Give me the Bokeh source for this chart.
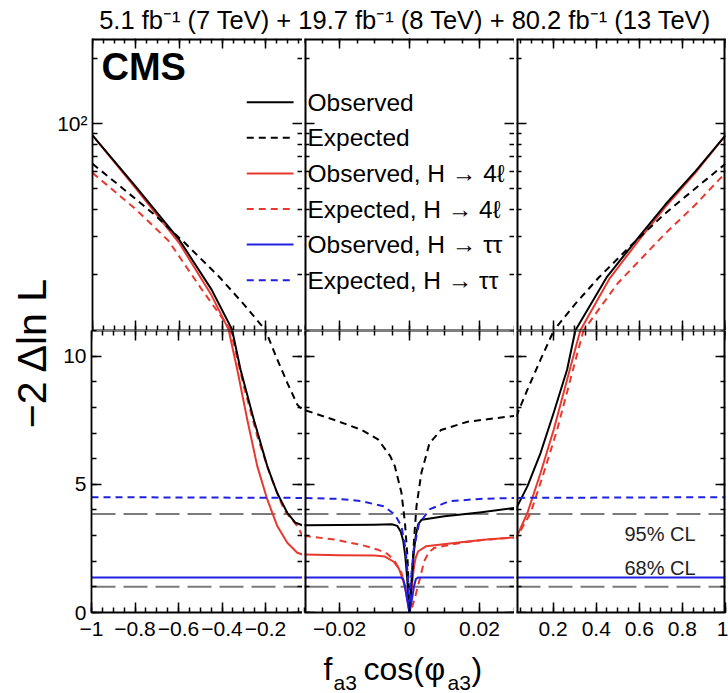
from math import pi
import numpy as np
from bokeh.plotting import figure
from bokeh.models import (Range1d, LinearAxis, LogAxis, FixedTicker, Label, Span,
                          CustomJSTickFormatter)
from bokeh.layouts import row, column
from bokeh.embed import file_html
from bokeh.resources import INLINE

FONT = "Liberation Sans"

# ---------------- data ----------------
# Observed (combination)
obs_x = [-1.0, -0.8, -0.6, -0.45, -0.353, -0.315, -0.254, -0.192, -0.147, -0.1, -0.062, -0.03,
         -0.02, -0.01, -0.005, -0.0035, -0.0025, -0.0018, -0.0012, -0.0007, -0.0003, 0.0,
         0.0003, 0.0007, 0.0012, 0.0018, 0.0025, 0.0035, 0.01, 0.02, 0.03,
         0.081, 0.142, 0.203, 0.265, 0.303, 0.45, 0.6, 0.72, 0.86, 1.0]
obs_y = [88, 51, 29, 17, 11.0, 9.48, 7.53, 5.71, 4.67, 3.89, 3.5, 3.4,
         3.41, 3.42, 3.44, 3.38, 3.15, 2.8, 2.2, 1.4, 0.6, 0.0,
         0.6, 1.4, 2.3, 3.0, 3.45, 3.62, 3.75, 3.9, 4.08,
         4.93, 6.23, 7.8, 9.48, 11.0, 19.5, 30, 42, 60, 88]

# Expected (combination)
exp_x = [-1.0, -0.86, -0.719, -0.566, -0.413, -0.3, -0.2, -0.146, -0.1, -0.054, -0.03,
         -0.0212, -0.0136, -0.009, -0.0055, -0.0042, -0.0023, -0.0013, -0.0006, -0.0001, 0.0,
         0.0002, 0.0006, 0.0013, 0.002, 0.0034, 0.0057, 0.009, 0.0166, 0.03,
         0.081, 0.142, 0.203, 0.3, 0.413, 0.566, 0.719, 0.86, 1.0]
exp_y = [65, 50, 38.2, 27.5, 19.4, 14.5, 11.0, 9.87, 8.96, 8.11, 7.9,
         7.5, 7.12, 6.75, 6.1, 5.71, 4.67, 3.5, 2.2, 0.64, 0.0,
         0.45, 1.17, 2.85, 4.15, 5.45, 6.6, 7.12, 7.44, 7.67,
         8.7, 9.87, 11.0, 14.5, 19.4, 27.5, 38.2, 50, 65]

# Observed, H -> 4l
obs4l_x = [-1.0, -0.8, -0.6, -0.45, -0.369, -0.33, -0.284, -0.238, -0.192, -0.146, -0.1, -0.054, -0.03,
           -0.02, -0.01, -0.007, -0.0045, -0.003, -0.0018, -0.001, -0.0003, 0.0,
           0.0004, 0.0008, 0.0013, 0.0018, 0.0025, 0.0047, 0.0147, 0.022, 0.03,
           0.081, 0.142, 0.203, 0.265, 0.326, 0.46, 0.6, 0.72, 0.86, 1.0]
obs4l_y = [88, 50, 28, 16, 11.0, 9.48, 7.53, 5.71, 4.41, 3.37, 2.72, 2.33, 2.26,
           2.23, 2.22, 2.18, 1.98, 1.7, 1.25, 0.8, 0.3, 0.0,
           0.5, 1.2, 1.8, 2.15, 2.39, 2.58, 2.74, 2.85, 2.93,
           3.89, 5.45, 7.14, 9.09, 11.0, 19, 29, 41, 59, 88]

# Expected, H -> 4l
exp4l_x = [-1.0, -0.8, -0.65, -0.5, -0.36, -0.3, -0.238, -0.177, -0.116, -0.054, -0.03,
           -0.0212, -0.0136, -0.009, -0.0065, -0.0045, -0.0023, -0.0011, -0.0003, 0.0,
           0.0005, 0.0015, 0.0029, 0.0042, 0.0055, 0.0071, 0.0147, 0.0213, 0.03,
           0.096, 0.157, 0.219, 0.28, 0.341, 0.5, 0.72, 0.86, 1.0]
exp4l_y = [59, 40, 28.7, 17.3, 11.0, 8.83, 6.88, 5.32, 4.02, 3.37, 2.99,
           2.84, 2.63, 2.45, 2.3, 2.07, 1.55, 0.9, 0.25, 0.0,
           0.1, 0.55, 1.29, 2.0, 2.35, 2.52, 2.72, 2.84, 2.92,
           3.89, 5.46, 7.14, 9.09, 11.0, 18.2, 30.9, 42, 59]

# Observed, H -> tautau
obstt_x = [-1.0, -0.0025, -0.0018, -0.0013, -0.0008, -0.0003, 0.0,
           0.0003, 0.0008, 0.0013, 0.0018, 0.0025, 1.0]
obstt_y = [1.37, 1.37, 1.3, 1.02, 0.6, 0.2, 0.0,
           0.2, 0.6, 1.02, 1.3, 1.37, 1.37]

# Expected, H -> tautau
exptt_x = [-1.0, -0.03, -0.02, -0.0136, -0.0073, -0.0042, -0.0023, -0.0011, -0.0004, 0.0,
           0.0004, 0.0012, 0.0027, 0.0057, 0.0113, 0.02, 0.03, 1.0]
exptt_y = [4.5, 4.47, 4.43, 4.34, 4.14, 3.82, 3.37, 2.46, 1.29, 0.0,
           1.29, 2.46, 3.45, 4.02, 4.34, 4.43, 4.47, 4.5]

CL_values = [3.84, 1.0]
CL_labels = ["95% CL", "68% CL"]

legend_labels = ["Observed", "Expected", "Observed, H \u2192 4\u2113", "Expected, H \u2192 4\u2113",
                 "Observed, H \u2192 \u03c4\u03c4", "Expected, H \u2192 \u03c4\u03c4"]

x_major_left = [-1.0, -0.8, -0.6, -0.4, -0.2]
x_labels_left = ["\u22121", "\u22120.8", "\u22120.6", "\u22120.4", "\u22120.2"]
x_major_mid = [-0.02, 0.0, 0.02]
x_labels_mid = ["\u22120.02", "0", "0.02"]
x_major_right = [0.2, 0.4, 0.6, 0.8, 1.0]
x_labels_right = ["0.2", "0.4", "0.6", "0.8", "1"]
y_major_bot = [0, 5, 10]
y_labels_bot = ["0", "5", "10"]
y_major_top = [100]
y_labels_top = ["10\u00b2"]

x_minor_left = [round(-1 + 0.05 * i, 3) for i in range(20)]
x_minor_mid = [round(-0.03 + 0.005 * i, 4) for i in range(13)]
x_minor_right = [round(0.05 * i, 3) for i in range(1, 21)]
y_minor_bot = list(range(0, 12))
y_minor_top = [20, 30, 40, 50, 60, 70, 80, 90, 200]

# ---------------- style / layout ----------------
BLACK = "#000000"
RED = "#e8392f"
BLUE = "#2020e0"
GRAY = "#7a7a7a"
DASH = "7 5"
EDGE_W = 4          # frame line drawn at a frame edge (half of it is clipped away)
SPLIT_W = 2         # each half of the horizontal split line

series = [
    (exp4l_x, exp4l_y, RED, DASH),
    (obs4l_x, obs4l_y, RED, "solid"),
    (exp_x, exp_y, BLACK, DASH),
    (obs_x, obs_y, BLACK, "solid"),
    (exptt_x, exptt_y, BLUE, DASH),
    (obstt_x, obstt_y, BLUE, "solid"),
]
legend_style = [(BLACK, "solid"), (BLACK, DASH), (RED, "solid"), (RED, DASH),
                (BLUE, "solid"), (BLUE, DASH)]

X_LEFT = (-1.0, -0.03)
X_MID = (-0.03, 0.03)
X_RIGHT = (0.03, 1.0)
Y_TOP = (11.0, 247.0)
Y_BOT = (0.0, 11.0)

TOTAL_W, TOTAL_H = 728, 693
YLAB_W = 54
LEFT_B = 37
SEP = 2
W_L, W_M, W_R = 211, 210, 209
RIGHT_B = 3
TITLE_H = 36
TOP_B = 2
H_TOP, H_BOT, BOT_B = 292, 282, 40
XLAB_H = TOTAL_H - TITLE_H - TOP_B - H_TOP - H_BOT - BOT_B

X0_L = YLAB_W + LEFT_B
X0_M = X0_L + W_L + SEP
X0_R = X0_M + W_M + SEP
Y_SPLIT = TITLE_H + TOP_B + H_TOP
Y_FLOOR = Y_SPLIT + H_BOT


# absolute pixel -> data helpers (text / legend placement only)
def xl(px):
    return X_LEFT[0] + (px - X0_L) * (X_LEFT[1] - X_LEFT[0]) / W_L


def xm(px):
    return X_MID[0] + (px - X0_M) * (X_MID[1] - X_MID[0]) / W_M


def xr(px):
    return X_RIGHT[0] + (px - X0_R) * (X_RIGHT[1] - X_RIGHT[0]) / W_R


def yt(py):
    return Y_TOP[0] * (Y_TOP[1] / Y_TOP[0]) ** ((Y_SPLIT - py) / H_TOP)


def yb(py):
    return (Y_FLOOR - py) * (Y_BOT[1] - Y_BOT[0]) / H_BOT


def blank_fig(w, h):
    f = figure(width=w, height=h, x_range=Range1d(0, w), y_range=Range1d(0, h),
               x_axis_location=None, y_axis_location=None, title=None,
               output_backend="svg", toolbar_location=None,
               min_border_left=0, min_border_right=0, min_border_top=0, min_border_bottom=0)
    f.outline_line_color = None
    f.grid.visible = False
    return f


def make_panel(xrange_, yrange_, log, w, h, bl, br, bt, bb):
    p = figure(width=w, height=h, x_range=Range1d(*xrange_), y_range=Range1d(*yrange_),
               y_axis_type="log" if log else "linear",
               x_axis_location=None, y_axis_location=None, title=None,
               output_backend="svg", toolbar_location=None,
               min_border_left=bl, min_border_right=br, min_border_top=bt,
               min_border_bottom=bb)
    p.outline_line_color = None
    p.grid.visible = False
    p.background_fill_color = "white"
    p.border_fill_color = "white"
    return p


def add_axis(p, side, major, minor, loc=None, labels=None, log=False, standoff=8,
             line_width=EDGE_W):
    Axis = LogAxis if log else LinearAxis
    ax = Axis(ticker=FixedTicker(ticks=major, minor_ticks=minor),
              axis_line_color="black" if line_width > 0 else None,
              axis_line_width=max(line_width, 0.1),
              major_tick_in=10, major_tick_out=0, major_tick_line_width=1.5,
              minor_tick_in=5, minor_tick_out=0, minor_tick_line_width=1.5,
              major_label_standoff=standoff, major_label_text_font=FONT,
              major_label_text_font_size="21px", major_label_text_color="black")
    if loc is not None:
        ax.fixed_location = loc
    if labels is None:
        ax.formatter = CustomJSTickFormatter(code="return ''")
    else:
        ax.major_label_overrides = dict(zip(major, labels))
    p.add_layout(ax, side)


def draw_series(p, log):
    for xs, ys, col, dash in series:
        y = np.array(ys, dtype=float)
        if log:
            y = np.where(y > 0, y, np.nan)
        p.line(list(xs), y, line_color=col, line_width=2, line_dash=dash,
               line_join="round")


xcfg = [
    (X_LEFT, x_major_left, x_minor_left, x_labels_left, LEFT_B + W_L, LEFT_B, 0),
    (X_MID, x_major_mid, x_minor_mid, x_labels_mid, SEP + W_M, SEP, 0),
    (X_RIGHT, x_major_right, x_minor_right, x_labels_right, SEP + W_R + RIGHT_B, SEP, RIGHT_B),
]

top_panels, bot_panels = [], []
for i, (xrg, xmaj, xmin, xlab, w, bl, br) in enumerate(xcfg):
    last = i == len(xcfg) - 1
    # top (log) panel
    pt = make_panel(xrg, Y_TOP, True, w, H_TOP + TOP_B, bl, br, TOP_B, 0)
    draw_series(pt, True)
    add_axis(pt, "above", xmaj, xmin, Y_TOP[1])
    add_axis(pt, "below", xmaj, xmin, Y_TOP[0], line_width=SPLIT_W)
    if i == 0:
        add_axis(pt, "left", y_major_top, y_minor_top, None, y_labels_top, log=True,
                 standoff=5, line_width=1.8)
    else:
        add_axis(pt, "left", y_major_top, y_minor_top, xrg[0], log=True)
    add_axis(pt, "right", y_major_top, y_minor_top, xrg[1], log=True,
             line_width=EDGE_W if last else 0)
    top_panels.append(pt)

    # bottom (linear) panel
    pb = make_panel(xrg, Y_BOT, False, w, H_BOT + BOT_B, bl, br, 0, BOT_B)
    for v in CL_values:
        pb.add_layout(Span(location=v, dimension="width", line_color=GRAY, line_width=2,
                           line_dash="24 8", level="underlay"))
    draw_series(pb, False)
    add_axis(pb, "above", xmaj, xmin, Y_BOT[1], line_width=SPLIT_W)
    add_axis(pb, "below", xmaj, xmin, None, xlab, standoff=9, line_width=1.8)
    if i == 0:
        add_axis(pb, "left", y_major_bot, y_minor_bot, None, y_labels_bot, standoff=5,
                 line_width=1.8)
    else:
        add_axis(pb, "left", y_major_bot, y_minor_bot, xrg[0])
    add_axis(pb, "right", y_major_bot, y_minor_bot, xrg[1], line_width=EDGE_W if last else 0)
    bot_panels.append(pb)

TL, TM, TR = top_panels
BL, BM, BR = bot_panels

# CMS label
TL.add_layout(Label(x=xl(100), y=yt(66.5), text="CMS", text_font=FONT, text_font_size="38px",
                    text_font_style="bold", text_color="black", text_baseline="middle"))

# legend: sample lines in the left panel, texts in the middle panel
for k, (lab, (col, dash)) in enumerate(zip(legend_labels, legend_style)):
    yc = 101.7 + 35.6 * k
    TL.line([xl(246), xl(293)], [yt(yc), yt(yc)], line_color=col, line_width=2,
            line_dash=dash)
    TM.add_layout(Label(x=xm(307), y=yt(yc), text=lab, text_font=FONT,
                        text_font_size="24.5px", text_color="black",
                        text_baseline="middle"))

# CL labels
for lab, py in zip(CL_labels, [533.5, 567.5]):
    BR.add_layout(Label(x=xr(624), y=yb(py), text=lab, text_font=FONT, text_font_size="20px",
                        text_color="#222222", text_baseline="middle"))

# title strip
tf = blank_fig(TOTAL_W, TITLE_H)
tf.add_layout(Label(x=711, y=TITLE_H - 19,
                    text="5.1 fb\u207b\u00b9 (7 TeV) + 19.7 fb\u207b\u00b9 (8 TeV) + 80.2 fb\u207b\u00b9 (13 TeV)",
                    text_font=FONT, text_font_size="25.5px", text_color="black",
                    text_align="right", text_baseline="middle"))

# y axis title strip
YL_H = TOTAL_H - TITLE_H
yf = blank_fig(YLAB_W, YL_H)
yf.add_layout(Label(x=31, y=TOTAL_H - 352, text="\u22122 \u0394ln L", angle=pi / 2,
                    text_font=FONT, text_font_size="41px", text_color="black",
                    text_align="center", text_baseline="middle"))

# x axis title strip (pieces for the subscripts)
XL_W = TOTAL_W - YLAB_W
xf = blank_fig(XL_W, XLAB_H)
for txt, px, py, fs in [("f", 323, 668, "32px"), ("a3", 333, 681.5, "21px"),
                        ("cos(", 363, 668, "32px"), ("\u03c6", 424, 668, "32px"),
                        ("a3", 447, 681.5, "21px"), (")", 471, 668, "32px")]:
    xf.add_layout(Label(x=px - YLAB_W, y=TOTAL_H - py, text=txt, text_font=FONT,
                        text_font_size=fs, text_color="black", text_baseline="middle"))

layout = column(tf, row(yf, column(row(TL, TM, TR), row(BL, BM, BR), xf)))

with open("out.html", "w") as f:
    f.write(file_html(layout, INLINE))
